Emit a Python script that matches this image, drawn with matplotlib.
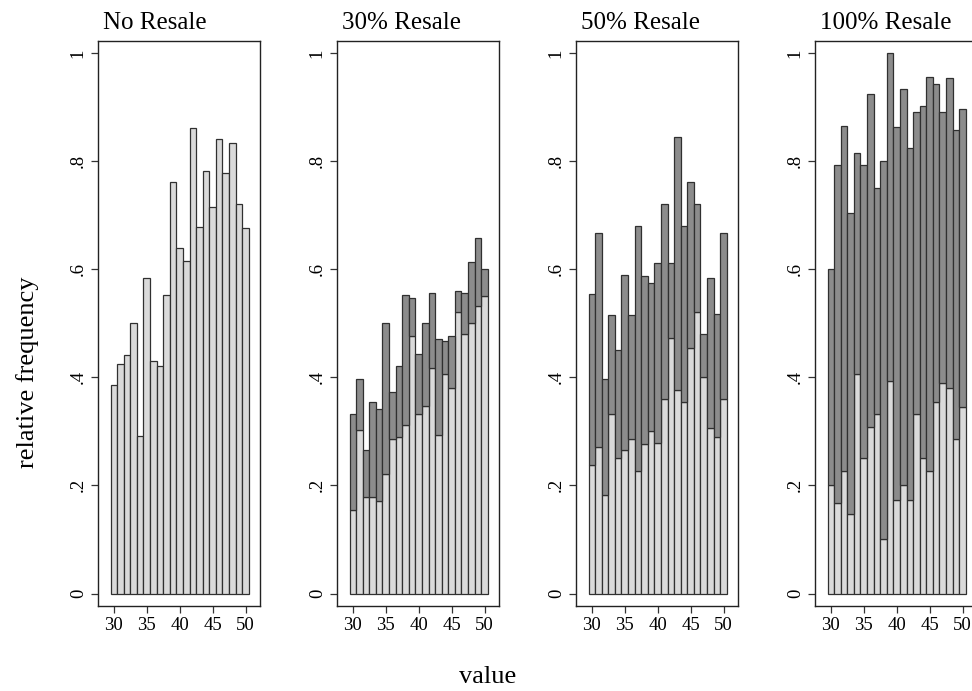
import matplotlib
matplotlib.use("Agg")
import matplotlib.pyplot as plt
import numpy as np

values = list(range(30, 51))
titles = ["No Resale", "30% Resale", "50% Resale", "100% Resale"]

no_resale = [0.385, 0.425, 0.442, 0.500, 0.292, 0.584, 0.430, 0.420, 0.553, 0.762, 0.639,
             0.616, 0.862, 0.678, 0.781, 0.715, 0.840, 0.778, 0.834, 0.720, 0.676]

r30_total = [0.333, 0.396, 0.265, 0.354, 0.342, 0.500, 0.372, 0.420, 0.553, 0.547, 0.444,
             0.500, 0.556, 0.471, 0.468, 0.476, 0.560, 0.556, 0.613, 0.657, 0.600]
r30_light = [0.154, 0.302, 0.178, 0.178, 0.171, 0.222, 0.285, 0.289, 0.311, 0.476, 0.333,
             0.346, 0.417, 0.294, 0.407, 0.381, 0.520, 0.481, 0.500, 0.531, 0.551]

r50_total = [0.554, 0.667, 0.396, 0.515, 0.451, 0.589, 0.515, 0.679, 0.587, 0.575, 0.612,
             0.721, 0.612, 0.844, 0.679, 0.762, 0.721, 0.480, 0.584, 0.517, 0.667]
r50_light = [0.237, 0.272, 0.183, 0.333, 0.250, 0.265, 0.285, 0.226, 0.276, 0.300, 0.278,
             0.360, 0.473, 0.376, 0.355, 0.454, 0.520, 0.401, 0.306, 0.289, 0.359]

r100_total = [0.600, 0.792, 0.864, 0.704, 0.815, 0.792, 0.924, 0.750, 0.800, 1.000, 0.863,
              0.934, 0.825, 0.890, 0.901, 0.955, 0.942, 0.890, 0.953, 0.857, 0.897]
r100_light = [0.200, 0.167, 0.227, 0.148, 0.407, 0.250, 0.308, 0.333, 0.100, 0.393, 0.173,
              0.200, 0.173, 0.333, 0.250, 0.227, 0.354, 0.389, 0.381, 0.285, 0.345]

yticks = [0, 0.2, 0.4, 0.6, 0.8, 1.0]
yticklabels = ["0", ".2", ".4", ".6", ".8", "1"]
xticks = [30, 35, 40, 45, 50]

LIGHT = "#dadada"
DARK = "#8c8c8c"
EDGE = "#303030"

plt.rcParams['font.family'] = ['Liberation Serif', 'DejaVu Serif']

W, H = 972, 691
fig = plt.figure(figsize=(W / 100, H / 100), dpi=100)

lefts = [98, 337, 576, 815]
pw = 162
top, bottom = 41, 606

panels = [
    (no_resale, None),
    (r30_light, r30_total),
    (r50_light, r50_total),
    (r100_light, r100_total),
]

for i, (light, total) in enumerate(panels):
    ax = fig.add_axes([lefts[i] / W, 1 - bottom / H, pw / W, (bottom - top) / H])
    ax.bar(values, light, width=1.0, color=LIGHT, edgecolor=EDGE, linewidth=0.9)
    if total is not None:
        dark = np.array(total) - np.array(light)
        ax.bar(values, dark, width=1.0, bottom=light, color=DARK, edgecolor=EDGE, linewidth=0.9)
    ax.set_xlim(27.6, 52.2)
    ax.set_ylim(-0.023, 1.022)
    ax.set_yticks(yticks)
    ax.set_yticklabels(yticklabels, rotation=90, va="center", fontsize=13.5)
    ax.set_xticks(xticks)
    ax.set_xticklabels([str(x) for x in xticks], fontsize=13.5)
    ax.tick_params(axis="both", direction="out", length=5, width=0.9, color="#333333", pad=3)
    for s in ax.spines.values():
        s.set_linewidth(1.0)
        s.set_color("#222222")
    fig.text((lefts[i] + 5) / W, 1 - 29 / H, titles[i], ha="left", va="baseline", fontsize=18)

fig.text(28 / W, 1 - 372 / H, "relative frequency", rotation=90, ha="center", va="center", fontsize=19)
fig.text(488 / W, 1 - 677 / H, "value", ha="center", va="center", fontsize=19)

fig.savefig("out.png", dpi=100, facecolor="white")
